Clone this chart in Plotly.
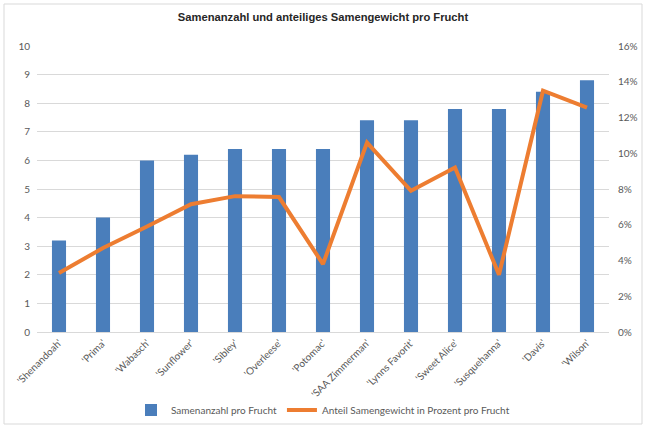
import plotly.graph_objects as go

sorten = ["'Shenandoah'", "'Prima'", "'Wabasch'", "'Sunflower'", "'Sibley'", "'Overleese'",
          "'Potomac'", "'SAA Zimmerman'", "'Lynns Favorit'", "'Sweet Alice'", "'Susquehanna'",
          "'Davis'", "'Wilson'"]
samenanzahl = [3.2, 4.0, 6.0, 6.2, 6.4, 6.4, 6.4, 7.4, 7.4, 7.8, 7.8, 8.4, 8.8]
anteil_prozent = [3.3, 4.7, 5.9, 7.15, 7.6, 7.55, 3.8, 10.6, 7.9, 9.2, 3.2, 13.5, 12.55]

W, H = 646, 430
L, R, T, B = 37, 609, 46, 332

def px_x(x):
    return (x - L) / (R - L)

def px_y(y):
    return (B - y) / (B - T)

font = "Lato, Open Sans, Liberation Sans, Arial, sans-serif"
tick_col = "#595959"

fig = go.Figure()
fig.add_trace(go.Bar(
    x=sorten, y=samenanzahl, name="Samenanzahl pro Frucht",
    marker=dict(color="#4a7ebb", line=dict(width=0)), yaxis="y",
))
fig.add_trace(go.Scatter(
    x=sorten, y=anteil_prozent, name="Anteil Samengewicht in Prozent pro Frucht",
    mode="lines", line=dict(color="#ed7d31", width=4), yaxis="y2",
))

fig.update_layout(
    width=W, height=H,
    margin=dict(l=L, r=W - R, t=T, b=H - B, autoexpand=False),
    paper_bgcolor="white", plot_bgcolor="white",
    bargap=0.68,
    title=dict(text="<b>Samenanzahl und anteiliges Samengewicht pro Frucht</b>",
               x=0.5, xanchor="center", y=1 - 17 / H, yanchor="middle",
               font=dict(family="Liberation Sans, Arial, sans-serif", size=11.2, color="#262626")),
    xaxis=dict(tickangle=-45, tickfont=dict(family=font, size=10, color=tick_col),
               showgrid=False, showline=True, linecolor="#d9d9d9", linewidth=1,
               ticks="", fixedrange=True, automargin=False),
    yaxis=dict(range=[0, 10], dtick=1, showgrid=True, gridcolor="#d9d9d9", gridwidth=1,
               zeroline=False, showline=False, ticks="", automargin=False,
               color=tick_col,
               tickfont=dict(family=font, size=10, color=tick_col), ticklabelstandoff=6),
    yaxis2=dict(range=[0, 16], dtick=2, ticksuffix="%", overlaying="y", side="right",
                showgrid=False, zeroline=False, showline=False, ticks="", automargin=False,
                color=tick_col,
                tickfont=dict(family=font, size=10, color=tick_col), ticklabelstandoff=8),
    legend=dict(orientation="h", x=0.5, xanchor="center", yref="container",
                y=1 - 410 / H, yanchor="middle",
                font=dict(family=font, size=10, color=tick_col), itemwidth=30,
                bgcolor="rgba(0,0,0,0)"),
    shapes=[dict(type="rect", xref="paper", yref="paper",
                 x0=px_x(4), x1=px_x(642), y0=px_y(424), y1=px_y(4),
                 line=dict(color="#d9d9d9", width=1), fillcolor="rgba(0,0,0,0)", layer="below")],
)

fig.write_html("out.html")
